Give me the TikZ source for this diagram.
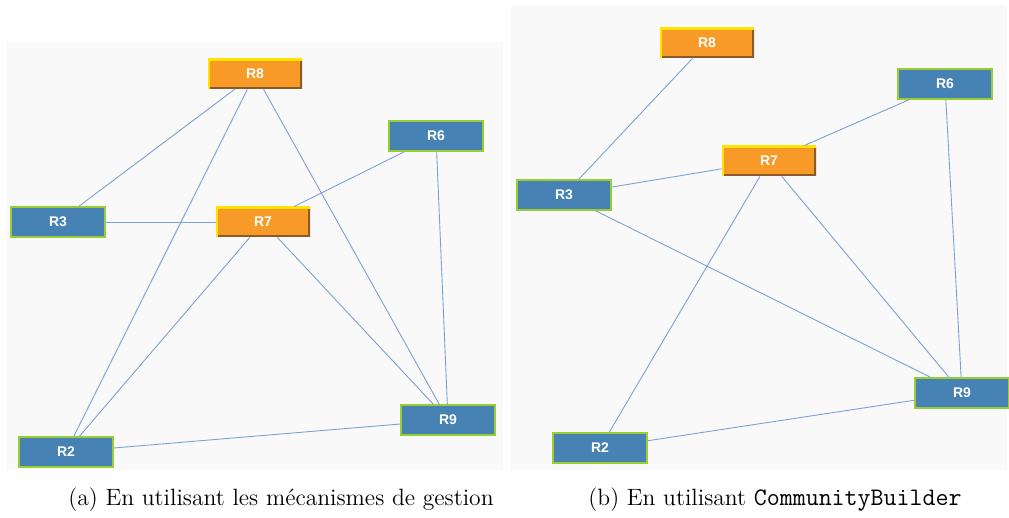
\documentclass[tikz,border=0pt]{standalone}
\usepackage{fontspec}
\newfontfamily\boxfont{Liberation Sans}
\definecolor{bluebox}{RGB}{70,130,180}
\definecolor{greenline}{RGB}{154,205,50}
\definecolor{orangebox}{RGB}{247,154,40}
\definecolor{yellowline}{RGB}{255,228,0}
\definecolor{brownline}{RGB}{140,90,40}
\definecolor{edgeblue}{RGB}{125,160,215}
\definecolor{panelgray}{RGB}{249,249,249}
\tikzset{
  routeur/.style={rectangle, minimum width=47pt, minimum height=15pt, inner sep=0pt,
    text=white, font=\boxfont\bfseries\fontsize{7}{8}\selectfont},
  membre/.style={routeur, fill=bluebox, draw=greenline, line width=0.7pt},
  chef/.style={routeur, fill=orangebox, path picture={
      \draw[brownline, line width=2pt] (path picture bounding box.south west)
        -- (path picture bounding box.south east) -- (path picture bounding box.north east);
      \draw[yellowline, line width=2pt] (path picture bounding box.south west)
        -- (path picture bounding box.north west) -- (path picture bounding box.north east);
    }},
  lien/.style={edgeblue, line width=0.45pt},
  legende/.style={font=\fontsize{11.8}{14}\selectfont}
}
\begin{document}
\begin{tikzpicture}[x=0.5pt, y=-0.5pt]
  % fonds des deux captures
  \useasboundingbox (0,0) rectangle (1009,518);
  \fill[panelgray] (7,42) rectangle (503,470);
  \fill[panelgray] (511,5) rectangle (1007,470);

  % (a) mecanismes de gestion
  \node[chef] (r8a) at (255,74) {R8};
  \node[membre] (r6a) at (436,136) {R6};
  \node[membre] (r3a) at (58,222) {R3};
  \node[chef] (r7a) at (263,222) {R7};
  \node[membre] (r9a) at (448,420) {R9};
  \node[membre] (r2a) at (66,452) {R2};

  \draw[lien] (r8a) -- (r3a);
  \draw[lien] (r8a) -- (r2a);
  \draw[lien] (r8a) -- (r9a);
  \draw[lien] (r3a) -- (r7a);
  \draw[lien] (r6a) -- (r7a);
  \draw[lien] (r6a) -- (r9a);
  \draw[lien] (r7a) -- (r2a);
  \draw[lien] (r7a) -- (r9a);
  \draw[lien] (r2a) -- (r9a);

  % (b) CommunityBuilder
  \node[chef] (r8b) at (707,43) {R8};
  \node[membre] (r6b) at (945,84) {R6};
  \node[chef] (r7b) at (769,161) {R7};
  \node[membre] (r3b) at (564,195) {R3};
  \node[membre] (r9b) at (962,393) {R9};
  \node[membre] (r2b) at (600,448) {R2};

  \draw[lien] (r8b) -- (r3b);
  \draw[lien] (r6b) -- (r7b);
  \draw[lien] (r6b) -- (r9b);
  \draw[lien] (r7b) -- (r3b);
  \draw[lien] (r7b) -- (r2b);
  \draw[lien] (r7b) -- (r9b);
  \draw[lien] (r3b) -- (r9b);
  \draw[lien] (r2b) -- (r9b);

  \node[legende] (capa) at (281,500) {(a) En utilisant les mécanismes de gestion};
  \node[legende] (capb) at (775,500) {(b) En utilisant {\fontsize{12.6}{14}\selectfont\ttfamily CommunityBuilder}};
\end{tikzpicture}
\end{document}
